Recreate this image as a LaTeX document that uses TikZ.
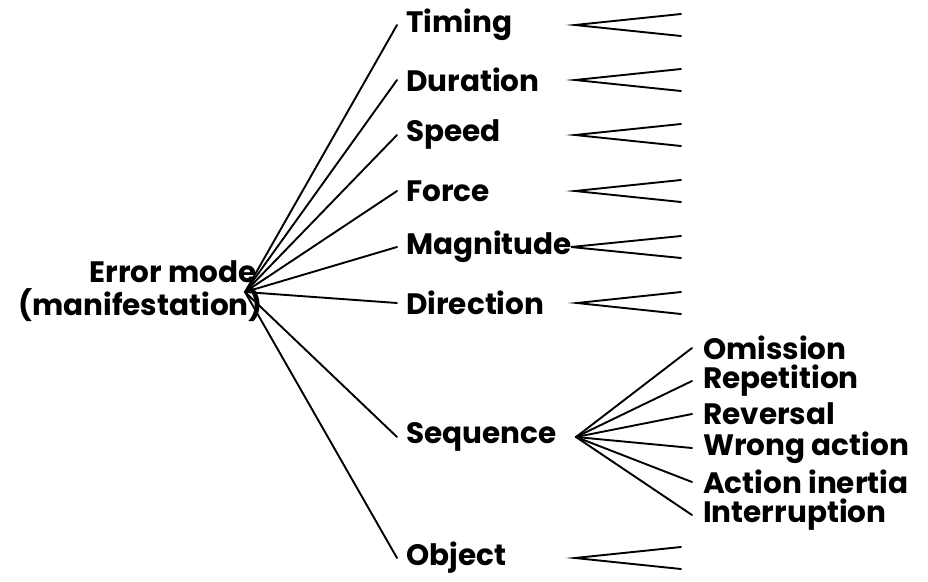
\documentclass[tikz,border=0pt]{standalone}
\usepackage{fontspec}
\setmainfont{Poppins}
\begin{document}
\begin{tikzpicture}[x=1pt,y=-1pt,
  txt/.style={font=\fontsize{29.5}{31}\selectfont\bfseries},
  lbl/.style={txt,anchor=west,inner xsep=9pt,inner ysep=0pt},
  sub/.style={txt,anchor=west,inner xsep=11pt,inner ysep=0pt},
  conn/.style={line width=1.9pt,line cap=round},
  wedge/.style={line width=1.9pt,line cap=round,line join=miter}]
\useasboundingbox (0,0) rectangle (928,581);
\coordinate (hub) at (245,292);
\node[txt,anchor=east,inner sep=0pt] (em1) at (257,272) {Error mode};
\node[txt,anchor=east,inner sep=0pt] (em2) at (263,305) {(manifestation)};
\foreach \nm/\txt/\yy/\ax in {tim/Timing/25/575,dur/Duration/80/575,spd/Speed/135/575,frc/Force/191/575,mag/Magnitude/247/571,dir/Direction/303/577,obj/Object/558/575}{
  \node[lbl] (\nm) at (397,\yy) {\txt};
  \draw[conn] (hub) -- (\nm.west);
  \coordinate (\nm-a) at (\ax,\yy);
  \coordinate (\nm-u) at (681,\yy-11);
  \coordinate (\nm-l) at (681,\yy+11);
  \draw[wedge] (\nm-u) -- (\nm-a) -- (\nm-l);
}
\node[lbl] (seq) at (397,437) {Sequence};
\draw[conn] (hub) -- (seq.west);
\coordinate (sh) at (576,437);
\foreach \nm/\txt/\yy in {om/Omission/348,rep/Repetition/381,rev/Reversal/414,wa/Wrong action/448,ai/Action inertia/482,int/Interruption/515}{
  \node[sub] (\nm) at (692,\yy) {\txt};
  \draw[conn] (sh) -- (\nm.west);
}
\end{tikzpicture}
\end{document}
